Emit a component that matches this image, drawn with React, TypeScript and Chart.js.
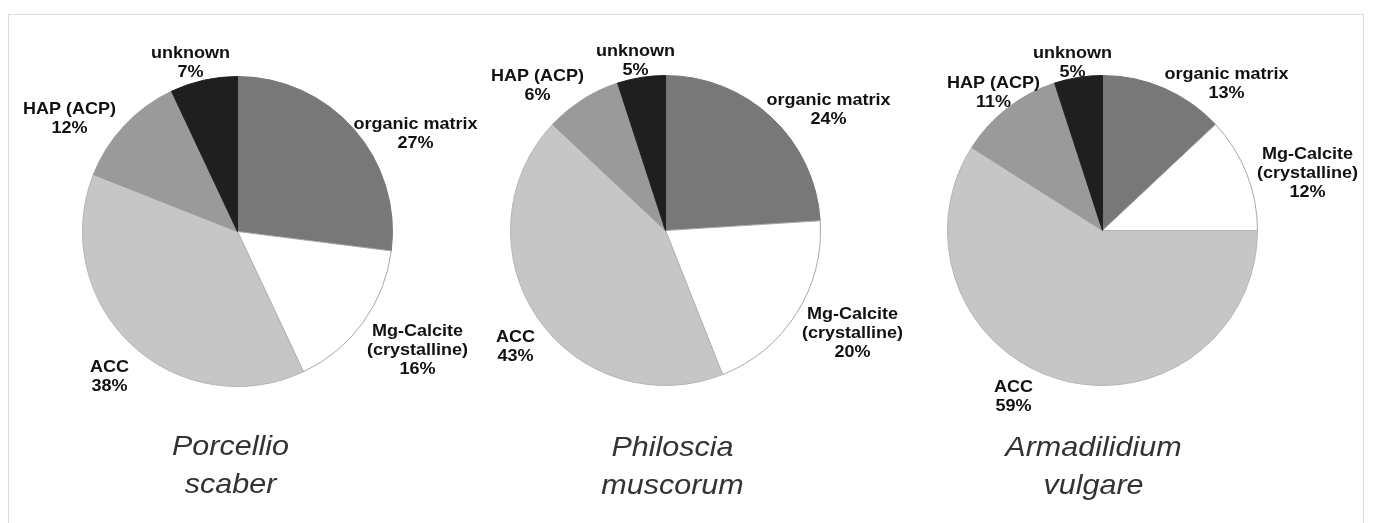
import React, { useEffect, useRef } from 'react';
import { Chart, registerables } from 'chart.js';

Chart.register(...registerables);

// ---- data ----
const CATEGORIES = ['organic matrix', 'Mg-Calcite (crystalline)', 'ACC', 'HAP (ACP)', 'unknown'];
const CATEGORY_LINES = [['organic matrix'], ['Mg-Calcite', '(crystalline)'], ['ACC'], ['HAP (ACP)'], ['unknown']];
const SPECIES = [
  ['Porcellio', 'scaber'],
  ['Philoscia', 'muscorum'],
  ['Armadilidium', 'vulgare'],
];
const PORCELLIO_VALUES = [27, 16, 38, 12, 7];
const PHILOSCIA_VALUES = [24, 20, 43, 8, 5];
const ARMADILLIDIUM_VALUES = [13, 12, 59, 11, 5];
const PORCELLIO_PCT = ['27%', '16%', '38%', '12%', '7%'];
const PHILOSCIA_PCT = ['24%', '20%', '43%', '6%', '5%'];
const ARMADILLIDIUM_PCT = ['13%', '12%', '59%', '11%', '5%'];

// ---- style / layout ----
const W = 1373;
const H = 523;
const R = 155;
const COLORS = ['#787878', '#ffffff', '#c6c6c6', '#9a9a9a', '#1f1f1f'];
const BORDERS = ['#787878', '#a8a8a8', '#b4b4b4', '#9a9a9a', '#1f1f1f'];
const LABEL_FONT = 'bold 17px "Liberation Sans", Arial, sans-serif';
const LABEL_STRETCH = 1.06;
const LABEL_LH = 19;
const TITLE_FONT = 'italic 28px "Liberation Sans", Arial, sans-serif';
const TITLE_STRETCH = 1.09;
const TITLE_LH = 38;

const PIES = [
  {
    values: PORCELLIO_VALUES,
    pct: PORCELLIO_PCT,
    title: SPECIES[0],
    cx: 237,
    cy: 231,
    labelOffsets: [[178, -98], [180, 119], [-128, 145], [-168, -113], [-47, -169]],
    titleOffset: [-7, 235],
  },
  {
    values: PHILOSCIA_VALUES,
    pct: PHILOSCIA_PCT,
    title: SPECIES[1],
    cx: 665,
    cy: 230,
    labelOffsets: [[163, -121], [187, 103], [-150, 116], [-128, -145], [-30, -170]],
    titleOffset: [7, 237],
  },
  {
    values: ARMADILLIDIUM_VALUES,
    pct: ARMADILLIDIUM_PCT,
    title: SPECIES[2],
    cx: 1102,
    cy: 230,
    labelOffsets: [[124, -147], [205, -57], [-89, 166], [-109, -138], [-30, -168]],
    titleOffset: [-9, 237],
  },
];

function drawStretched(ctx: CanvasRenderingContext2D, text: string, x: number, y: number, sx: number) {
  ctx.save();
  ctx.translate(x, y);
  ctx.scale(sx, 1);
  ctx.fillText(text, 0, 0);
  ctx.restore();
}

function makeLabelPlugin(pie: any) {
  return {
    id: 'pieLabels',
    afterDraw(chart: any) {
      const ctx: CanvasRenderingContext2D = chart.ctx;
      const meta = chart.getDatasetMeta(0);
      if (!meta.data.length) return;
      const cx = meta.data[0].x;
      const cy = meta.data[0].y;
      ctx.save();
      ctx.textAlign = 'center';
      ctx.textBaseline = 'middle';
      ctx.fillStyle = '#111111';
      ctx.font = LABEL_FONT;
      meta.data.forEach((_arc: any, i: number) => {
        const lines = [...CATEGORY_LINES[i], pie.pct[i]];
        const [dx, dy] = pie.labelOffsets[i];
        const bx = cx + dx;
        const by = cy + dy - ((lines.length - 1) * LABEL_LH) / 2;
        lines.forEach((ln: string, k: number) => drawStretched(ctx, ln, bx, by + k * LABEL_LH, LABEL_STRETCH));
      });
      ctx.fillStyle = '#333333';
      ctx.font = TITLE_FONT;
      const [tx, ty] = pie.titleOffset;
      const tLines = pie.title;
      const ty0 = cy + ty - ((tLines.length - 1) * TITLE_LH) / 2;
      tLines.forEach((ln: string, k: number) => drawStretched(ctx, ln, cx + tx, ty0 + k * TITLE_LH, TITLE_STRETCH));
      ctx.restore();
    },
  };
}

function PieCanvas({ pie }: { pie: any }) {
  const ref = useRef<HTMLCanvasElement>(null);
  useEffect(() => {
    if (!ref.current) return;
    const chart = new Chart(ref.current, {
      type: 'pie',
      data: {
        labels: CATEGORIES,
        datasets: [
          {
            data: pie.values,
            backgroundColor: COLORS,
            borderColor: BORDERS,
            borderWidth: 1,
          },
        ],
      },
      options: {
        responsive: false,
        animation: false,
        layout: {
          padding: {
            left: pie.cx - R,
            top: pie.cy - R,
            right: W - pie.cx - R - 1,
            bottom: H - pie.cy - R - 1,
          },
        },
        plugins: {
          legend: { display: false },
          tooltip: { enabled: false },
        },
      },
      plugins: [makeLabelPlugin(pie)],
    } as any);
    return () => chart.destroy();
  }, [pie]);
  return (
    <canvas
      ref={ref}
      width={W}
      height={H}
      style={{ position: 'absolute', left: 0, top: 0, width: W, height: H }}
    />
  );
}

export default function App() {
  return (
    <div
      style={{
        position: 'absolute',
        left: 0,
        top: 0,
        width: W,
        height: H,
        overflow: 'hidden',
        background: '#ffffff',
      }}
    >
      <div
        style={{
          position: 'absolute',
          left: 8,
          top: 14,
          width: 1356,
          height: 530,
          border: '1px solid #dcdcdc',
          boxSizing: 'border-box',
        }}
      />
      {PIES.map((p, i) => (
        <PieCanvas key={i} pie={p} />
      ))}
    </div>
  );
}
